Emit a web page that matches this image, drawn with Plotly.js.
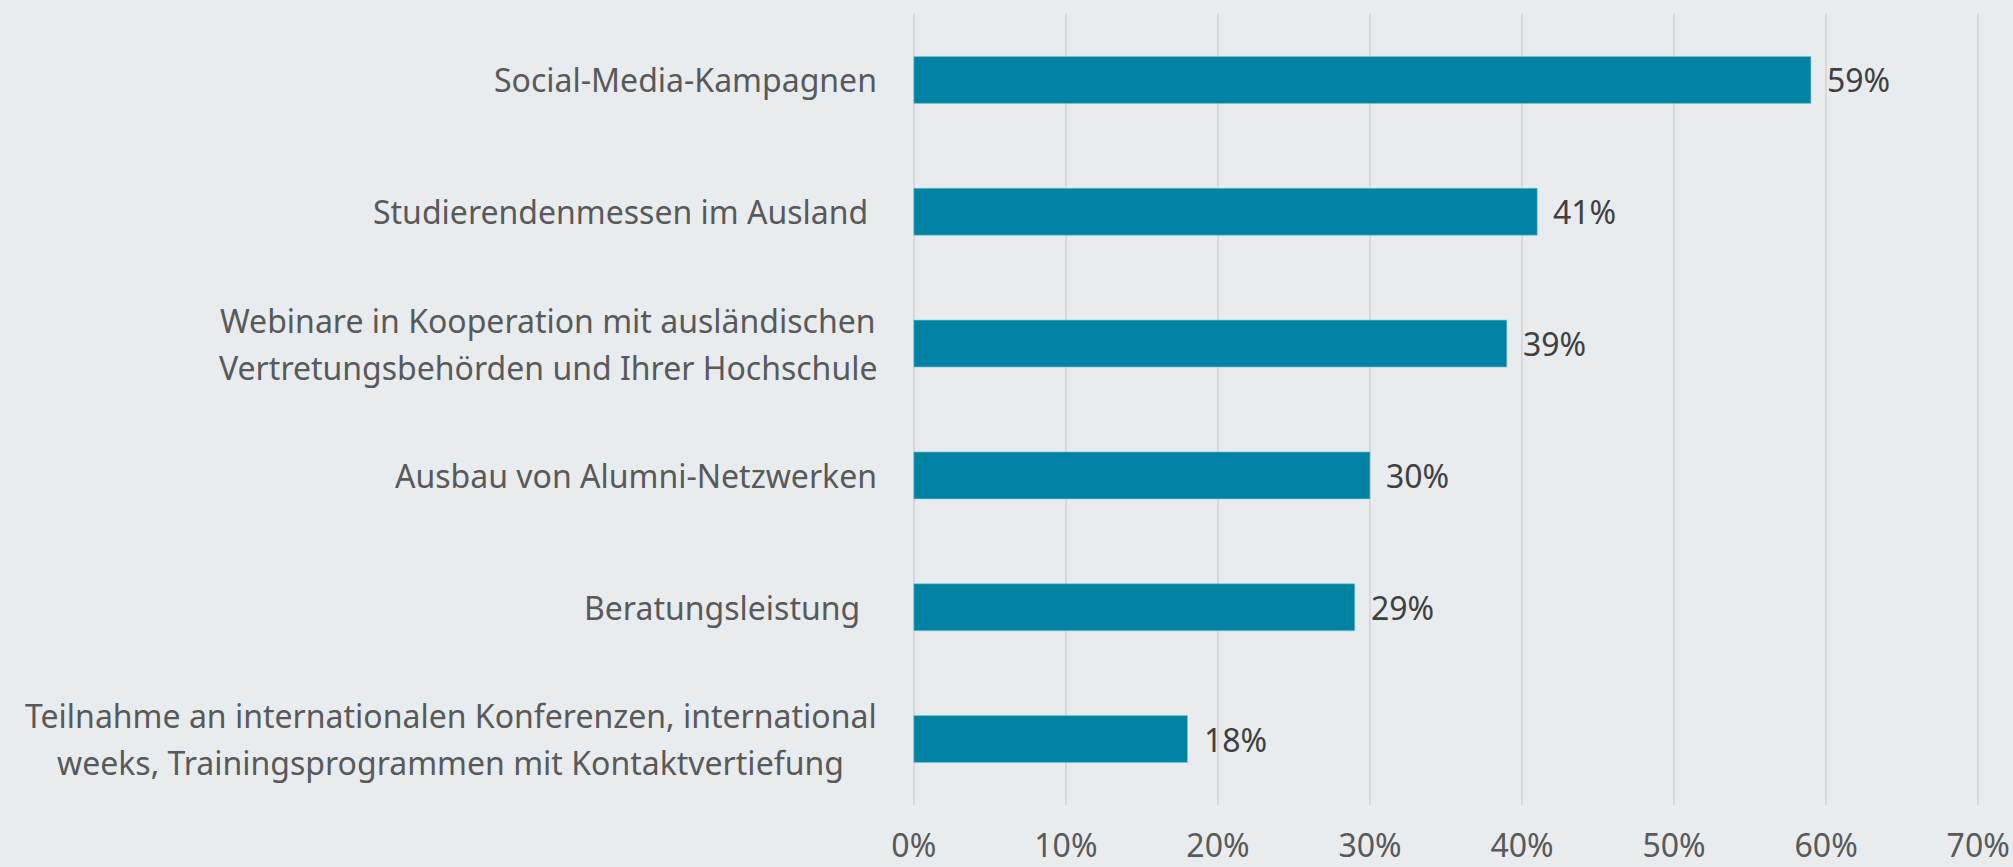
<!DOCTYPE html>
<html>
<head>
<meta charset="utf-8">
<script src="https://cdn.plot.ly/plotly-3.0.1.min.js"></script>
<style>
html,body{margin:0;padding:0;background:#e8ecef;}
#chart{width:2013px;height:867px;}
</style>
</head>
<body>
<div id="chart"></div>
<script>
const categories = [
  "Social-Media-Kampagnen",
  "Studierendenmessen im Ausland\u00a0",
  "Webinare in Kooperation mit ausländischen\nVertretungsbehörden und Ihrer Hochschule",
  "Ausbau von Alumni-Netzwerken",
  "Beratungsleistung\u00a0\u00a0",
  "Teilnahme an internationalen Konferenzen, international\nweeks, Trainingsprogrammen mit Kontaktvertiefung"
];
const values = [59, 41, 39, 30, 29, 18];
const tickValues = [0, 10, 20, 30, 40, 50, 60, 70];
const tickLabels = ["0%", "10%", "20%", "30%", "40%", "50%", "60%", "70%"];

const FONT = "Noto Sans, Open Sans, sans-serif";
const FSIZE = 32;
const LINE_GAP = 47;
const LABEL_GAP = 37;
const PAD = 0.12; // small range padding so edge gridlines are drawn
const ids = categories.map((c, i) => "c" + i);

const ctx = document.createElement("canvas").getContext("2d");
ctx.font = FSIZE + "px 'Noto Sans'";
function textW(s) { return ctx.measureText(s).width; }

const trace = {
  type: "bar",
  orientation: "h",
  x: values,
  y: ids,
  marker: {color: "#0083a3", line: {color: "rgba(120,200,220,0.6)", width: 1}},
  hoverinfo: "skip"
};

const annotations = [];
categories.forEach((c, i) => {
  const lines = c.split("\n");
  const maxW = Math.max(...lines.map(textW));
  lines.forEach((ln, k) => {
    const off = (k - (lines.length - 1) / 2) * LINE_GAP;
    annotations.push({
      xref: "x", yref: "y", x: 0, y: ids[i],
      xanchor: "center", yanchor: "middle", align: "center",
      xshift: -LABEL_GAP - maxW / 2, yshift: -off,
      showarrow: false, text: ln,
      font: {family: FONT, size: FSIZE, color: "#595959"}
    });
  });
  annotations.push({
    xref: "x", yref: "y", x: values[i], y: ids[i],
    xanchor: "left", yanchor: "middle", xshift: 14,
    showarrow: false, text: values[i] + "%",
    font: {family: FONT, size: FSIZE, color: "#404040"}
  });
});

const pxPerUnit = 1064 / 70;
const plotW = 1064 + 2 * PAD * pxPerUnit;
const mL = 914 - PAD * pxPerUnit;
const mR = 2013 - mL - plotW;

const layout = {
  width: 2013, height: 867,
  paper_bgcolor: "#e8ecef", plot_bgcolor: "#e8ecef",
  margin: {l: mL, r: mR, t: 13.5, b: 62, pad: 0},
  showlegend: false,
  bargap: 0.644,
  xaxis: {
    range: [-PAD, 70 + PAD], tickvals: tickValues, ticktext: tickLabels,
    showgrid: true, gridcolor: "#d6d8da", gridwidth: 1.5,
    zeroline: false, showline: false, ticks: "",
    ticklabelstandoff: 19,
    tickfont: {family: FONT, size: FSIZE, color: "#595959"},
    fixedrange: true
  },
  yaxis: {
    autorange: "reversed", showticklabels: false, showgrid: false,
    zeroline: false, showline: false, ticks: "", fixedrange: true
  },
  annotations: annotations
};

Plotly.newPlot("chart", [trace], layout, {displayModeBar: false, staticPlot: true});
</script>
</body>
</html>
